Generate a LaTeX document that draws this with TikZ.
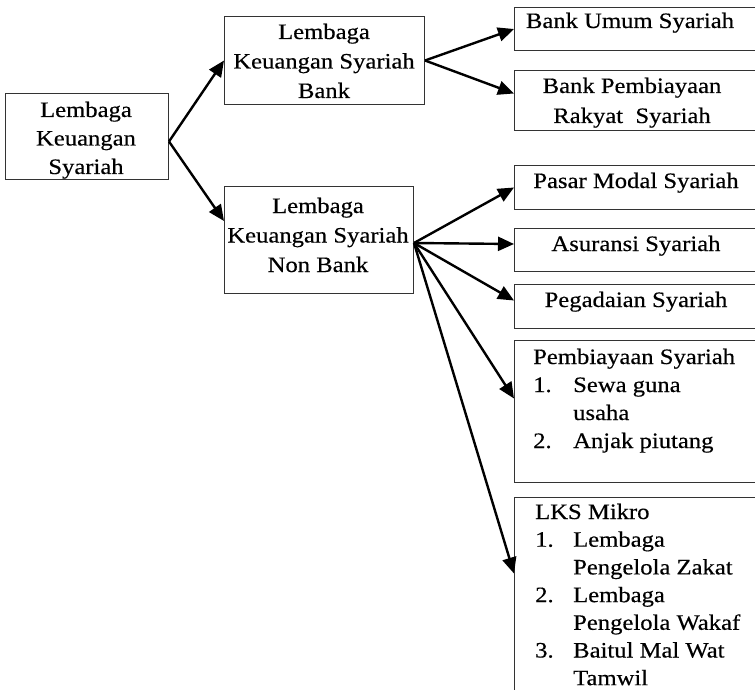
\documentclass[tikz,border=0pt]{standalone}
\usepackage{fontspec}
\setmainfont[FakeStretch=1.12,FakeBold=0.4]{Liberation Serif}
\usetikzlibrary{arrows.meta}
\begin{document}
\begin{tikzpicture}[x=1pt,y=-1pt,
  box/.style={draw=black!80, line width=1pt, inner sep=0pt, anchor=north west},
  txt/.style={inner sep=0pt, anchor=base, font=\fontsize{22}{28.5}\selectfont},
  arr/.style={line width=2.4pt, -{Triangle[length=16pt,width=14pt]}},
]
\useasboundingbox (0,0) rectangle (755,690);
\clip (0,0) rectangle (755,690);
% boxes
\node[box, minimum width=163pt, minimum height=86pt] (lks) at (5,93) {};
\node[box, minimum width=200pt, minimum height=88pt] (bank) at (224,16) {};
\node[box, minimum width=189pt, minimum height=107pt] (nonbank) at (224,186) {};
\node[box, minimum width=260pt, minimum height=43pt] (bus) at (514,7) {};
\node[box, minimum width=260pt, minimum height=60pt] (bpr) at (514,70) {};
\node[box, minimum width=260pt, minimum height=44pt] (pm) at (514,165) {};
\node[box, minimum width=260pt, minimum height=43pt] (as) at (514,228) {};
\node[box, minimum width=260pt, minimum height=44pt] (peg) at (514,284) {};
\node[box, minimum width=260pt, minimum height=142pt] (pemb) at (514,340) {};
\node[box, minimum width=260pt, minimum height=230pt] (mikro) at (514,497) {};
% texts
\node[txt] (lks-t) at (86,117) {\begin{tabular}[t]{@{}c@{}}Lembaga\\Keuangan\\Syariah\end{tabular}};
\node[txt, font=\fontsize{22}{29.5}\selectfont] (bank-t) at (324,39) {\begin{tabular}[t]{@{}c@{}}Lembaga\\Keuangan Syariah\\Bank\end{tabular}};
\node[txt, font=\fontsize{22}{29.5}\selectfont] (nonbank-t) at (318,213) {\begin{tabular}[t]{@{}c@{}}Lembaga\\Keuangan Syariah\\Non Bank\end{tabular}};
\node[txt] (bus-t) at (630,28) {Bank Umum Syariah};
\node[txt, font=\fontsize{22}{30}\selectfont] (bpr-t) at (632,93) {\begin{tabular}[t]{@{}c@{}}Bank Pembiayaan\\Rakyat\ \ Syariah\end{tabular}};
\node[txt] (pm-t) at (636,188) {Pasar Modal Syariah};
\node[txt] (as-t) at (636,251) {Asuransi Syariah};
\node[txt] (peg-t) at (636,307) {Pegadaian Syariah};
\node[txt, anchor=base west, font=\fontsize{22}{28}\selectfont] (pemb-t) at (533,364) {\begin{tabular}[t]{@{}l@{}}Pembiayaan Syariah\\
\makebox[40pt][l]{1.}Sewa guna\\
\hspace*{40pt}usaha\\
\makebox[40pt][l]{2.}Anjak piutang\end{tabular}};
\node[txt, anchor=base west, font=\fontsize{22}{27.7}\selectfont] (mikro-t) at (535,519) {\begin{tabular}[t]{@{}l@{}}LKS Mikro\\
\makebox[38pt][l]{1.}Lembaga\\
\hspace*{38pt}Pengelola Zakat\\
\makebox[38pt][l]{2.}Lembaga\\
\hspace*{38pt}Pengelola Wakaf\\
\makebox[38pt][l]{3.}Baitul Mal Wat\\
\hspace*{38pt}Tamwil\end{tabular}};
% connectors
\draw[arr] ([yshift=-5pt]lks.east) -- (bank.west);
\draw[arr] ([yshift=-5pt]lks.east) -- ([yshift=19pt]nonbank.west);
\draw[arr] (bank.east) -- (bus.west);
\draw[arr] (bank.east) -- ([yshift=7pt]bpr.west);
\draw[arr] ([yshift=-3pt]nonbank.east) -- (pm.west);
\draw[arr] ([yshift=-3pt]nonbank.east) -- ([yshift=6pt]as.west);
\draw[arr] ([yshift=-3pt]nonbank.east) -- ([yshift=6pt]peg.west);
\draw[arr] ([yshift=-3pt]nonbank.east) -- ([yshift=13pt]pemb.west);
\draw[arr] ([yshift=-3pt]nonbank.east) -- ([yshift=39pt]mikro.west);
\end{tikzpicture}
\end{document}
